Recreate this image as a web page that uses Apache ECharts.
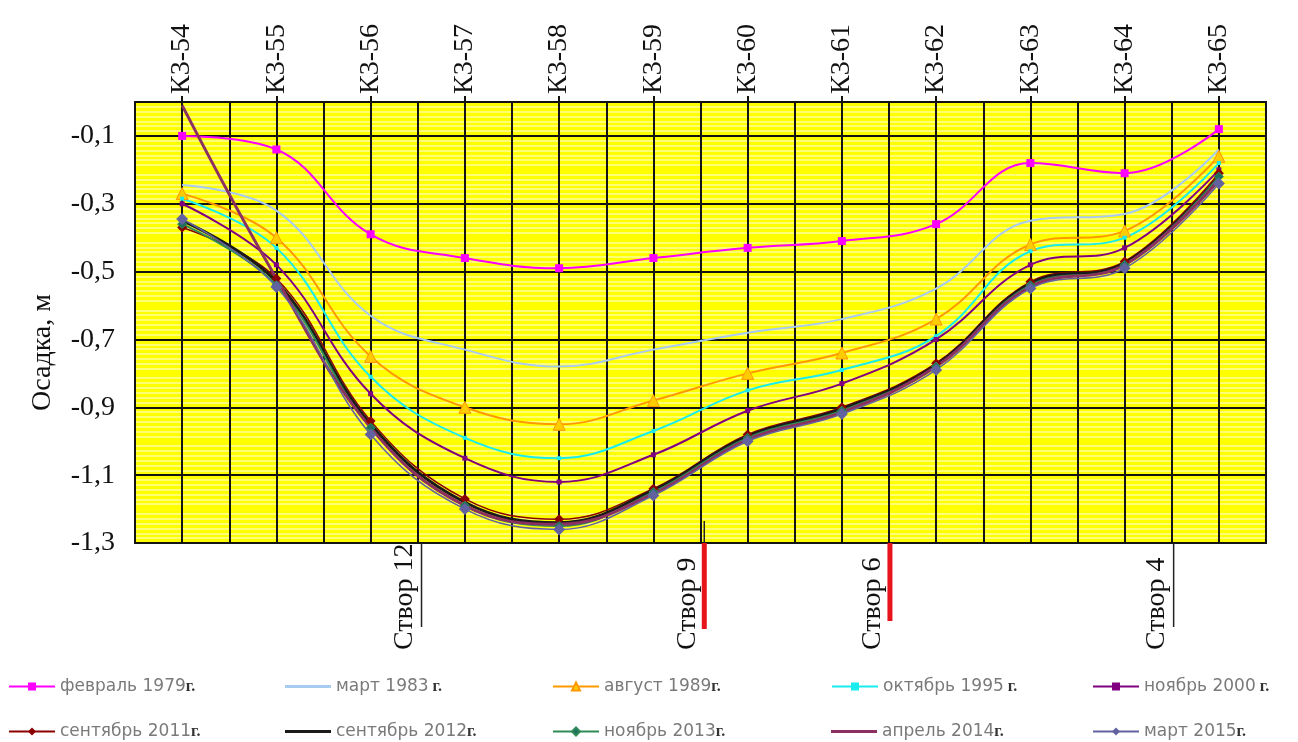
<!DOCTYPE html>
<html>
<head>
<meta charset="utf-8">
<script src="https://cdn.jsdelivr.net/npm/echarts@6/dist/echarts.min.js"></script>
<style>
html,body{margin:0;padding:0;background:#fff;}
#chart{width:1298px;height:742px;}
</style>
</head>
<body>
<div id="chart"></div>
<script>
// ---- data ----
const categories = ['К3-54','К3-55','К3-56','К3-57','К3-58','К3-59','К3-60','К3-61','К3-62','К3-63','К3-64','К3-65'];
const seriesNames = ['февраль 1979г.','март 1983 г.','август 1989г.','октябрь 1995 г.','ноябрь 2000 г.',
                     'сентябрь 2011г.','сентябрь 2012г.','ноябрь 2013г.','апрель 2014г.','март 2015г.'];
const feb1979 = [-0.10, -0.14, -0.39, -0.46, -0.49, -0.46, -0.43, -0.41, -0.36, -0.18, -0.21, -0.08];
const mar1983 = [-0.245, -0.32, -0.63, -0.73, -0.78, -0.73, -0.68, -0.64, -0.55, -0.35, -0.33, -0.14];
const aug1989 = [-0.27, -0.40, -0.75, -0.90, -0.95, -0.88, -0.80, -0.74, -0.64, -0.42, -0.38, -0.16];
const oct1995 = [-0.285, -0.43, -0.81, -0.99, -1.05, -0.97, -0.85, -0.79, -0.69, -0.44, -0.40, -0.18];
const nov2000 = [-0.30, -0.48, -0.86, -1.05, -1.12, -1.04, -0.91, -0.83, -0.70, -0.48, -0.43, -0.20];
const sep2011 = [-0.37, -0.52, -0.94, -1.17, -1.23, -1.14, -0.98, -0.90, -0.77, -0.53, -0.47, -0.21];
const sep2012 = [-0.35, -0.53, -0.95, -1.18, -1.24, -1.145, -0.985, -0.905, -0.775, -0.535, -0.475, -0.22];
const nov2013 = [-0.36, -0.54, -0.96, -1.19, -1.25, -1.15, -0.99, -0.91, -0.78, -0.54, -0.48, -0.22];
const apr2014 = [-0.01, -0.52, -0.96, -1.19, -1.245, -1.155, -0.995, -0.915, -0.78, -0.545, -0.48, -0.23];
const mar2015 = [-0.345, -0.545, -0.98, -1.20, -1.26, -1.16, -1.00, -0.92, -0.79, -0.55, -0.49, -0.24];
const yMin = -1.3, yMax = 0, yStep = 0.1;
const stvorNames = ['Створ 12', 'Створ 9', 'Створ 6', 'Створ 4'];
const stvorPos = [2.54, 5.54, 7.51, 10.52];

// ---- styles ----
const SERIF = '"Liberation Serif", "DejaVu Serif", serif';
const seriesStyles = [
  {color:'#ff00ff', width:2, symbol:'rect', size:8},
  {color:'#a9cbf2', width:2, symbol:'none', size:0},
  {color:'#ff9900', width:2, symbol:'triangle', size:12, fill:'#ffcc00'},
  {color:'#18ecec', width:2, symbol:'rect', size:4},
  {color:'#800080', width:2, symbol:'rect', size:5},
  {color:'#8b0000', width:1.5, symbol:'diamond', size:10},
  {color:'#1a1a1a', width:3, symbol:'none', size:0},
  {color:'#2e8b57', width:2, symbol:'diamond', size:9, fill:'#1f6f60'},
  {color:'#8b3060', width:3, symbol:'none', size:0},
  {color:'#6262a0', width:1.5, symbol:'diamond', size:12}
];
const dataList = [feb1979, mar1983, aug1989, oct1995, nov2000, sep2011, sep2012, nov2013, apr2014, mar2015];

const lineSeries = dataList.map((d, i) => {
  const s = seriesStyles[i];
  return {
    name: seriesNames[i],
    type: 'line',
    xAxisIndex: 0,
    yAxisIndex: 0,
    data: d,
    smooth: 0.4,
    symbol: s.symbol === 'none' ? 'none' : s.symbol,
    showSymbol: s.symbol !== 'none',
    symbolSize: s.size,
    lineStyle: {color: s.color, width: s.width},
    itemStyle: {color: s.fill || s.color, borderColor: s.color, borderWidth: s.fill ? 1 : 0},
    emphasis: {disabled: true},
    animation: false
  };
});

const stvorStyle = [
  {color:'#222', width:1.5, len:84},
  {color:'#e8141c', width:5, len:86, inner:true},
  {color:'#e8141c', width:5, len:78},
  {color:'#222', width:1.5, len:84}
];

const stvorSeries = {
  type: 'custom',
  xAxisIndex: 2,
  yAxisIndex: 0,
  clip: false,
  silent: true,
  animation: false,
  data: stvorPos.map((p) => [p, yMin]),
  renderItem: function (params, api) {
    const i = params.dataIndex;
    const st = stvorStyle[i];
    const p = api.coord([api.value(0), api.value(1)]);
    const children = [];
    if (st.inner) {
      children.push({type:'line', shape:{x1:p[0], y1:p[1]-22, x2:p[0], y2:p[1]}, style:{stroke:'#222', lineWidth:1.5}});
    }
    children.push({type:'line', shape:{x1:p[0], y1:p[1], x2:p[0], y2:p[1]+st.len}, style:{stroke:st.color, lineWidth:st.width}});
    children.push({type:'text', x:p[0]-17, y:p[1]+107, rotation:Math.PI/2,
      style:{text: stvorNames[i], font:'28px ' + SERIF, fill:'#111', align:'left', verticalAlign:'middle'}});
    return {type:'group', children: children};
  }
};

// legend: 5 columns x 2 rows, one legend component per item
const legendLefts = [8, 285, 552, 831, 1092];
const legendTops = [678, 723];
const LINE_ICON = 'path://M0,0h0.01v0.01h-0.01zM0,3.5h46v3h-46zM46,10h-0.01v-0.01h0.01z';
const legends = seriesNames.map((name, i) => {
  const s = seriesStyles[i];
  const item = s.symbol === 'none' ? {name: name, icon: LINE_ICON} : {name: name};
  return {
    orient: 'horizontal',
    left: legendLefts[i % 5],
    top: legendTops[Math.floor(i / 5)],
    padding: 0,
    itemWidth: 46,
    itemHeight: 10,
    selectedMode: false,
    data: [item],
    formatter: function (n) {
      const m = n.match(/^(.*?)(\s?г\.)$/);
      return '{t|' + m[1] + '}{g|' + m[2] + '}';
    },
    textStyle: {
      rich: {
        t: {fontFamily: '"DejaVu Sans", sans-serif', fontSize: 17, color: '#7a7a7a'},
        g: {fontFamily: SERIF, fontSize: 16, fontWeight: 'bold', color: '#333333'}
      }
    }
  };
});

const chart = echarts.init(document.getElementById('chart'), null, {renderer: 'canvas'});
chart.setOption({
  backgroundColor: '#ffffff',
  animation: false,
  grid: {
    left: 135, right: 32, top: 102, bottom: 199,
    show: true, backgroundColor: '#ffff00', borderColor: '#111', borderWidth: 2,
    containLabel: false
  },
  legend: legends,
  xAxis: [
    {
      type: 'category', data: categories, position: 'top', boundaryGap: true,
      axisLine: {show: false},
      axisTick: {show: true, alignWithLabel: true, length: 6, lineStyle: {color: '#111', width: 2}},
      axisLabel: {rotate: 90, margin: 8, fontFamily: SERIF, fontSize: 28, color: '#111'},
      splitLine: {show: false}
    },
    {
      type: 'category', data: categories.flatMap(c => [c + 'a', c + 'b']), position: 'top', boundaryGap: true,
      z: 1,
      axisLine: {show: false}, axisTick: {show: false}, axisLabel: {show: false},
      splitLine: {show: true, interval: 0, lineStyle: {color: '#141414', width: 2}}
    },
    {
      type: 'value', min: -0.5, max: 11.5, show: false
    }
  ],
  yAxis: [{
    type: 'value', min: yMin, max: yMax, interval: yStep,
    name: 'Осадка, м', nameLocation: 'middle', nameGap: 78,
    nameTextStyle: {fontFamily: SERIF, fontSize: 28, color: '#111', padding: [0, 60, 0, 0]},
    axisLine: {show: false}, axisTick: {show: false},
    axisLabel: {
      margin: 20, fontFamily: SERIF, fontSize: 28, color: '#111',
      formatter: function (v) {
        const k = Math.round(v * 10);
        return (k % 2 !== 0) ? v.toFixed(1).replace('.', ',') : '';
      }
    },
    splitLine: {show: true, lineStyle: {color: ['#141414', 'rgba(0,0,0,0)'], width: 2}},
    minorTick: {show: false, splitNumber: 7},
    minorSplitLine: {show: true, lineStyle: {color: '#ffff9c', width: 1.6}}
  }],
  series: lineSeries.concat([stvorSeries])
});
</script>
</body>
</html>
